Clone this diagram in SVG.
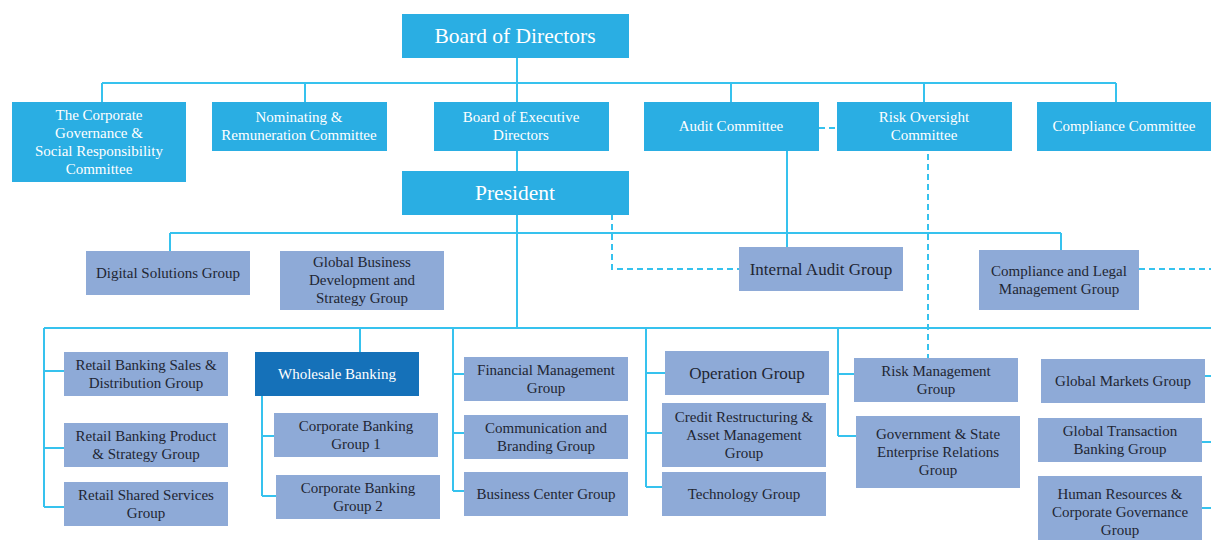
<svg xmlns="http://www.w3.org/2000/svg" width="1211" height="540" viewBox="0 0 1211 540">
  <style>
    .bg { fill: #ffffff; }
    .gov rect { fill: #2aaee3; }
    .gov text { fill: #ffffff; font-family: "Liberation Serif", "Times New Roman", serif; font-size: 15px; text-anchor: middle; }
    .gov text.big { font-size: 21.5px; }
    .grp rect { fill: #8eaad7; }
    .grp text { fill: #1f2633; font-family: "Liberation Serif", "Times New Roman", serif; font-size: 15px; text-anchor: middle; }
    .grp text.mid { font-size: 17px; }
    .dark rect { fill: #1571b9; }
    .dark text { fill: #ffffff; font-family: "Liberation Serif", "Times New Roman", serif; font-size: 15px; text-anchor: middle; }
    .ln { fill: none; stroke: #36c2ee; stroke-width: 2; }
    .dash { fill: none; stroke: #36c2ee; stroke-width: 2; stroke-dasharray: 6 4; }
  </style>
  <rect class="bg" x="0" y="0" width="1211" height="540"/>

  <!-- connectors -->
  <g id="connectors">
    <!-- board level -->
    <path class="ln" d="M517 57V102 M102 83H1116 M102 83V102 M305 83V102 M731 83V102 M924 83V102 M1116 83V102"/>
    <path class="ln" d="M517 151V171"/>
    <path class="dash" d="M819 128H837"/>
    <!-- committee oversight -->
    <path class="ln" d="M787 151V247"/>
    <path class="dash" d="M928 154V358"/>
    <path class="dash" d="M612 214V269H739"/>
    <path class="dash" d="M1139 269H1211"/>
    <!-- president level -->
    <path class="ln" d="M517 214V328 M170 233H1061 M170 233V251 M1061 233V250"/>
    <path class="ln" d="M44 328H1211"/>
    <!-- retail column -->
    <path class="ln" d="M44 328V507 M44 371H64 M44 448H64 M44 507H64"/>
    <!-- wholesale -->
    <path class="ln" d="M360 328V352 M262 395V496 M262 436H274 M262 496H276"/>
    <!-- finance column -->
    <path class="ln" d="M453 328V491 M453 374H464 M453 433H464 M453 491H464"/>
    <!-- operation column -->
    <path class="ln" d="M646 328V487 M646 373H665 M646 433H662 M646 487H662"/>
    <!-- risk column -->
    <path class="ln" d="M838 328V436 M838 374H854 M838 436H856"/>
    <!-- right column -->
    <path class="ln" d="M1205 376H1211 M1202 442H1211 M1202 508H1211"/>
  </g>

  <!-- board and committees -->
  <g id="board" class="gov">
    <rect x="402" y="14" width="227" height="44"/>
    <text class="big" x="515" y="43">Board of Directors</text>
  </g>
  <g id="cg-committee" class="gov">
    <rect x="12" y="102" width="174" height="80"/>
    <text x="99" y="120">The Corporate</text>
    <text x="99" y="138">Governance &amp;</text>
    <text x="99" y="156">Social Responsibility</text>
    <text x="99" y="174">Committee</text>
  </g>
  <g id="nominating" class="gov">
    <rect x="212" y="102" width="175" height="49"/>
    <text x="299" y="122">Nominating &amp;</text>
    <text x="299" y="140">Remuneration Committee</text>
  </g>
  <g id="exec-directors" class="gov">
    <rect x="434" y="102" width="175" height="49"/>
    <text x="521" y="122">Board of Executive</text>
    <text x="521" y="140">Directors</text>
  </g>
  <g id="audit-committee" class="gov">
    <rect x="644" y="102" width="175" height="49"/>
    <text x="731" y="131">Audit Committee</text>
  </g>
  <g id="risk-committee" class="gov">
    <rect x="837" y="102" width="175" height="49"/>
    <text x="924" y="122">Risk Oversight</text>
    <text x="924" y="140">Committee</text>
  </g>
  <g id="compliance-committee" class="gov">
    <rect x="1037" y="102" width="174" height="49"/>
    <text x="1124" y="131">Compliance Committee</text>
  </g>
  <g id="president" class="gov">
    <rect x="402" y="171" width="227" height="44"/>
    <text class="big" x="515" y="200">President</text>
  </g>

  <!-- groups under the president -->
  <g id="digital" class="grp">
    <rect x="86" y="251" width="164" height="44"/>
    <text x="168" y="278">Digital Solutions Group</text>
  </g>
  <g id="global-business" class="grp">
    <rect x="280" y="251" width="164" height="59"/>
    <text x="362" y="267">Global Business</text>
    <text x="362" y="285">Development and</text>
    <text x="362" y="303">Strategy Group</text>
  </g>
  <g id="internal-audit" class="grp">
    <rect x="739" y="247" width="164" height="44"/>
    <text class="mid" x="821" y="275">Internal Audit Group</text>
  </g>
  <g id="compliance-legal" class="grp">
    <rect x="979" y="250" width="160" height="60"/>
    <text x="1059" y="276">Compliance and Legal</text>
    <text x="1059" y="294">Management Group</text>
  </g>

  <g id="retail-sales" class="grp">
    <rect x="64" y="352" width="164" height="44"/>
    <text x="146" y="370">Retail Banking Sales &amp;</text>
    <text x="146" y="388">Distribution Group</text>
  </g>
  <g id="retail-product" class="grp">
    <rect x="64" y="423" width="164" height="44"/>
    <text x="146" y="441">Retail Banking Product</text>
    <text x="146" y="459">&amp; Strategy Group</text>
  </g>
  <g id="retail-shared" class="grp">
    <rect x="64" y="482" width="164" height="44"/>
    <text x="146" y="500">Retail Shared Services</text>
    <text x="146" y="518">Group</text>
  </g>

  <g id="wholesale" class="dark">
    <rect x="255" y="352" width="164" height="44"/>
    <text x="337" y="379">Wholesale Banking</text>
  </g>
  <g id="corp-banking-1" class="grp">
    <rect x="274" y="413" width="164" height="44"/>
    <text x="356" y="431">Corporate Banking</text>
    <text x="356" y="449">Group 1</text>
  </g>
  <g id="corp-banking-2" class="grp">
    <rect x="276" y="475" width="164" height="44"/>
    <text x="358" y="493">Corporate Banking</text>
    <text x="358" y="511">Group 2</text>
  </g>

  <g id="financial" class="grp">
    <rect x="464" y="357" width="164" height="44"/>
    <text x="546" y="375">Financial Management</text>
    <text x="546" y="393">Group</text>
  </g>
  <g id="communication" class="grp">
    <rect x="464" y="415" width="164" height="44"/>
    <text x="546" y="433">Communication and</text>
    <text x="546" y="451">Branding Group</text>
  </g>
  <g id="business-center" class="grp">
    <rect x="464" y="472" width="164" height="44"/>
    <text x="546" y="499">Business Center Group</text>
  </g>

  <g id="operation" class="grp">
    <rect x="665" y="351" width="164" height="44"/>
    <text class="mid" x="747" y="379">Operation Group</text>
  </g>
  <g id="credit" class="grp">
    <rect x="662" y="403" width="164" height="64"/>
    <text x="744" y="422">Credit Restructuring &amp;</text>
    <text x="744" y="440">Asset Management</text>
    <text x="744" y="458">Group</text>
  </g>
  <g id="technology" class="grp">
    <rect x="662" y="472" width="164" height="44"/>
    <text x="744" y="499">Technology Group</text>
  </g>

  <g id="risk-management" class="grp">
    <rect x="854" y="358" width="164" height="44"/>
    <text x="936" y="376">Risk Management</text>
    <text x="936" y="394">Group</text>
  </g>
  <g id="government" class="grp">
    <rect x="856" y="416" width="164" height="72"/>
    <text x="938" y="439">Government &amp; State</text>
    <text x="938" y="457">Enterprise Relations</text>
    <text x="938" y="475">Group</text>
  </g>

  <g id="global-markets" class="grp">
    <rect x="1041" y="359" width="164" height="44"/>
    <text x="1123" y="386">Global Markets Group</text>
  </g>
  <g id="global-transaction" class="grp">
    <rect x="1038" y="418" width="164" height="44"/>
    <text x="1120" y="436">Global Transaction</text>
    <text x="1120" y="454">Banking Group</text>
  </g>
  <g id="human-resources" class="grp">
    <rect x="1038" y="476" width="164" height="64"/>
    <text x="1120" y="499">Human Resources &amp;</text>
    <text x="1120" y="517">Corporate Governance</text>
    <text x="1120" y="535">Group</text>
  </g>
</svg>
